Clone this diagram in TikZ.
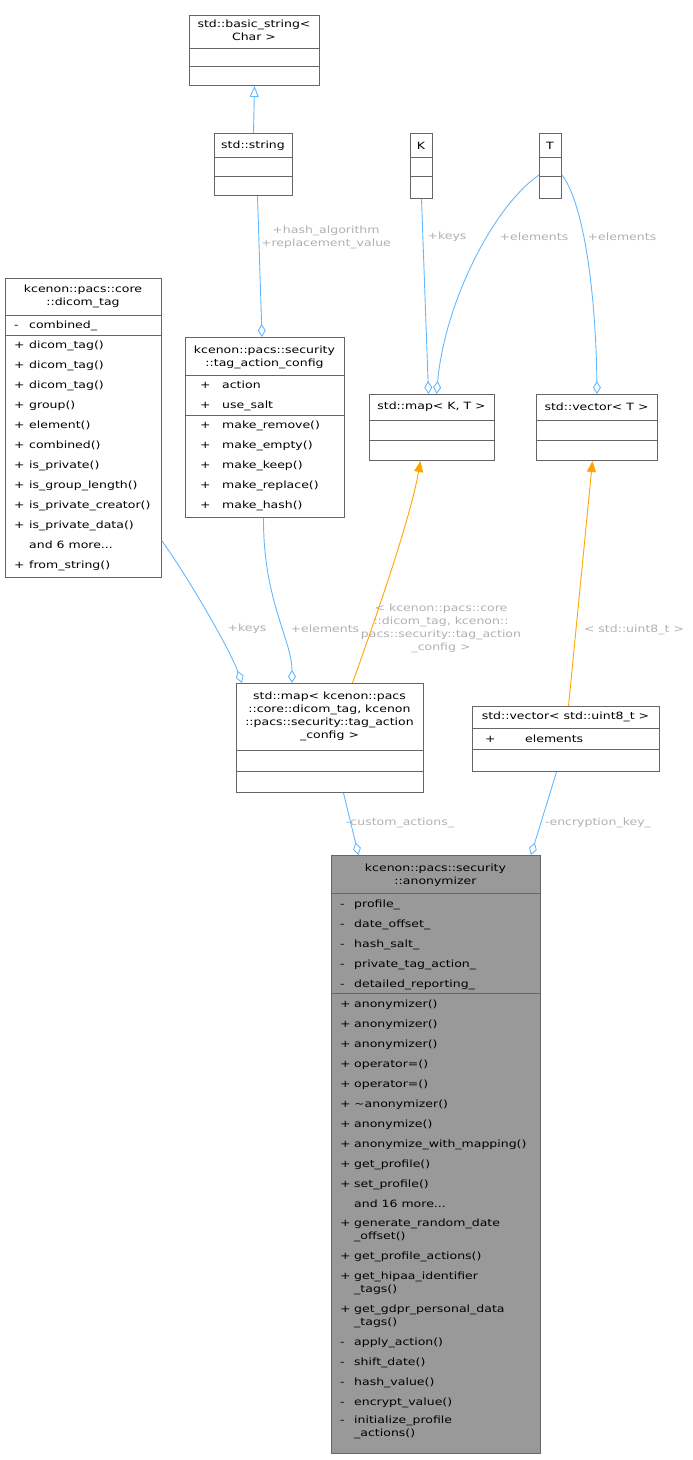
\documentclass[tikz,border=0pt]{standalone}
\usepackage{fontspec}
\setmainfont{DejaVu Sans}[FakeStretch=1.25]
\usetikzlibrary{arrows.meta,calc}
\definecolor{edgeblue}{HTML}{63B8FF}
\definecolor{edgeorange}{HTML}{FFA500}
\definecolor{boxline}{HTML}{666666}
\definecolor{lblgray}{HTML}{B0B0B0}
\newcommand\andmore[1]{and #1 more...}
\tikzset{
  cls/.style={draw=boxline, line width=1pt, rectangle, inner sep=0pt, anchor=north west},
  sep/.style={draw=boxline, line width=1pt},
  entry/.style={anchor=base west, inner sep=0pt, font=\fontsize{10}{13}\selectfont},
  title/.style={align=center, inner sep=0pt, font=\fontsize{10}{13}\selectfont},
  lbl/.style={align=center, inner sep=0pt, text=lblgray, font=\fontsize{10}{13}\selectfont},
  member/.style={edgeblue, line width=0.9pt, -{Diamond[open,fill=white,length=13pt,width=8pt]}},
  inherit/.style={edgeblue, line width=0.9pt, -{Triangle[open,fill=white,length=11pt,width=9pt]}},
  templ/.style={edgeorange, line width=0.9pt, -{Triangle[length=11pt,width=9pt]}}
}
\begin{document}
\begin{tikzpicture}[x=1pt,y=-1pt]
\useasboundingbox (0,0) rectangle (693,1460);

%std::basic_string
\node[cls, minimum width=130pt, minimum height=70pt](bstr) at (189,15) {};
\draw[sep] (189,48) -- (319,48) (189,66) -- (319,66);
\node[title] at (254,30) {std::basic\_string<\\Char >};

%std::string
\node[cls, minimum width=78pt, minimum height=62pt](str) at (214,133) {};
\draw[sep] (214,157) -- (292,157) (214,176) -- (292,176);
\node[title] at (253,146) {std::string};

%K and T
\node[cls, minimum width=22pt, minimum height=65pt](K) at (410,133) {};
\draw[sep] (410,157) -- (432,157) (410,176) -- (432,176);
\node[title] at (421,146) {K};
\node[cls, minimum width=22pt, minimum height=65pt](T) at (539,133) {};
\draw[sep] (539,157) -- (561,157) (539,176) -- (561,176);
\node[title] at (550,146) {T};

%dicom_tag
\node[cls, minimum width=156pt, minimum height=299pt](dtag) at (5,278) {};
\draw[sep] (5,315) -- (161,315) (5,335) -- (161,335);
\node[title] at (83,296) {kcenon::pacs::core\\::dicom\_tag};
\node[entry] at (14,328) {-};
\node[entry] at (29,328) {combined\_};
\foreach \m/\t [count=\i from 0] in {+/dicom\_tag(),+/dicom\_tag(),+/dicom\_tag(),+/group(),+/element(),+/combined(),+/is\_private(),+/is\_group\_length(),+/is\_private\_creator(),+/is\_private\_data(),/\andmore{6},+/from\_string()}{
  \node[entry] at (14,{348+20*\i}) {\m};
  \node[entry] at (29,{348+20*\i}) {\t};
}

%tag_action_config
\node[cls, minimum width=159pt, minimum height=180pt](tac) at (185,337) {};
\draw[sep] (185,375) -- (344,375) (185,415) -- (344,415);
\node[title] at (264.5,357) {kcenon::pacs::security\\::tag\_action\_config};
\foreach \t [count=\i from 0] in {action,use\_salt}{
  \node[entry] at (200,{388+20*\i}) {+};
  \node[entry] at (222,{388+20*\i}) {\t};
}
\foreach \t [count=\i from 0] in {make\_remove(),make\_empty(),make\_keep(),make\_replace(),make\_hash()}{
  \node[entry] at (200,{428+20*\i}) {+};
  \node[entry] at (222,{428+20*\i}) {\t};
}

%std::map< K, T >
\node[cls, minimum width=125pt, minimum height=66pt](mapKT) at (369,394) {};
\draw[sep] (369,420) -- (494,420) (369,440) -- (494,440);
\node[title] at (431.5,407) {std::map< K, T >};

%std::vector< T >
\node[cls, minimum width=121pt, minimum height=66pt](vecT) at (536,394) {};
\draw[sep] (536,420) -- (657,420) (536,440) -- (657,440);
\node[title] at (596.5,407) {std::vector< T >};

%std::map< dicom_tag, tag_action_config >
\node[cls, minimum width=187pt, minimum height=109pt](tmap) at (236,683) {};
\draw[sep] (236,750) -- (423,750) (236,771) -- (423,771);
\node[title] at (329.5,716) {std::map< kcenon::pacs\\::core::dicom\_tag, kcenon\\::pacs::security::tag\_action\\\_config >};

%std::vector< std::uint8_t >
\node[cls, minimum width=187pt, minimum height=65pt](vec8) at (472,706) {};
\draw[sep] (472,728) -- (659,728) (472,749) -- (659,749);
\node[title] at (565.5,717) {std::vector< std::uint8\_t >};
\node[entry] at (485,742) {+};
\node[entry] at (525,742) {elements};

%anonymizer
\node[cls, fill=gray!80, minimum width=209pt, minimum height=598pt](anon) at (331,855) {};
\draw[sep] (331,893) -- (540,893) (331,993) -- (540,993);
\node[title] at (435.5,875) {kcenon::pacs::security\\::anonymizer};
\foreach \t [count=\i from 0] in {profile\_,date\_offset\_,hash\_salt\_,private\_tag\_action\_,detailed\_reporting\_}{
  \node[entry] at (340,{907+20*\i}) {-};
  \node[entry] at (354,{907+20*\i}) {\t};
}
\foreach \y/\m/\t in {1003/+/anonymizer(),1023/+/anonymizer(),1043/+/anonymizer(),1063/+/operator=(),1083/+/operator=(),1103/+/\textasciitilde anonymizer(),1123/+/anonymize(),1143/+/anonymize\_with\_mapping(),1163/+/get\_profile(),1183/+/set\_profile(),1203//\andmore{16},1222/+/generate\_random\_date,1235//\_offset(),1255/+/get\_profile\_actions(),1275/+/get\_hipaa\_identifier,1288//\_tags(),1308/+/get\_gdpr\_personal\_data,1321//\_tags(),1341/-/apply\_action(),1361/-/shift\_date(),1381/-/hash\_value(),1401/-/encrypt\_value(),1419/-/initialize\_profile,1432//\_actions()}{
  \node[entry] at (340,\y+4) {\m};
  \node[entry] at (354,\y+4) {\t};
}

%labels
\node[lbl](lhash) at (326,237) {+hash\_algorithm\\+replacement\_value};
\node[lbl](lkeys1) at (447,237) {+keys};
\node[lbl](lel1) at (534,237) {+elements};
\node[lbl](lel2) at (622,237) {+elements};
\node[lbl](lkeys2) at (247,629) {+keys};
\node[lbl](lel3) at (325,629) {+elements};
\node[lbl](ltm) at (441,628) {< kcenon::pacs::core\\::dicom\_tag, kcenon::\\pacs::security::tag\_action\\\_config >};
\node[lbl](lu8) at (634,630) {< std::uint8\_t >};
\node[lbl](lcust) at (400,823) {-custom\_actions\_};
\node[lbl](lenc) at (598,823) {-encryption\_key\_};

%arrows
\draw[inherit] (str.north) -- (bstr.south);
\draw[member] ($(str.south)+(4,0)$) -- ($(tac.north)+(-3,0)$);
\draw[member] (K.south) -- ($(mapKT.north)+(-3.5,0)$);
\draw[member] ($(T.north west)+(0,42)$) .. controls (495,205) and (445,300) .. ($(mapKT.north)+(4.5,0)$);
\draw[member] ($(T.north east)+(0,42)$) .. controls (585,205) and (596,300) .. (vecT.north);
\draw[member] ($(dtag.south east)+(0,-37)$) .. controls (190,580) and (230,650) .. ($(tmap.north west)+(6,0)$);
\draw[member] ($(tac.south)+(-1.5,0)$) .. controls (263,600) and (292,640) .. ($(tmap.north west)+(56,0)$);
\draw[templ] ($(tmap.north)+(22.5,0)$) .. controls (375,620) and (410,520) .. ($(mapKT.south)+(-11.5,0)$);
\draw[templ] ($(vec8.north)+(2.5,0)$) -- ($(vecT.south)+(-4.5,0)$);
\draw[member] ($(tmap.south)+(13.5,0)$) -- ($(anon.north)+(-77.5,0)$);
\draw[member] ($(vec8.south)+(-9.5,0)$) -- ($(anon.north east)+(-10,0)$);
\end{tikzpicture}
\end{document}
